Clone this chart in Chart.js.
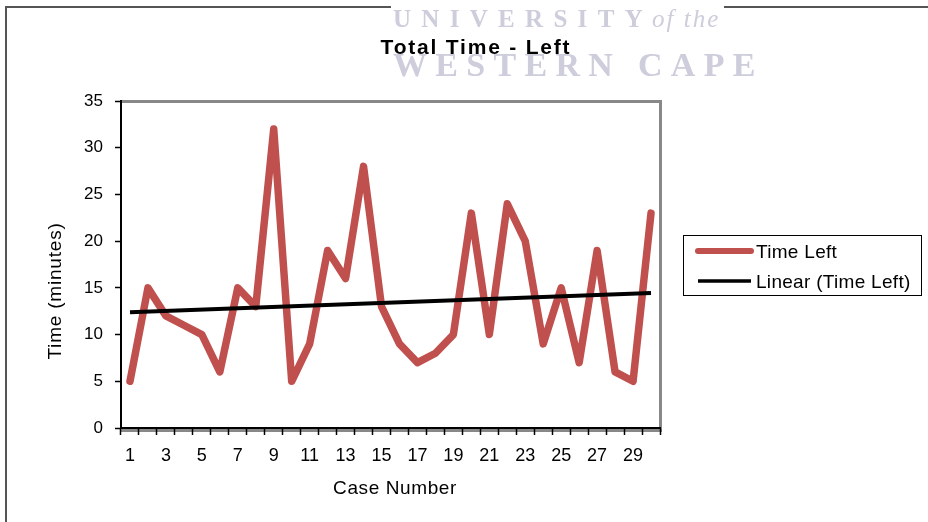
<!DOCTYPE html>
<html>
<head>
<meta charset="utf-8">
<title>Total Time - Left</title>
<script src="https://cdn.jsdelivr.net/npm/chart.js@4.4.1/dist/chart.umd.min.js"></script>
<style>
  html, body { margin: 0; padding: 0; background: #fff; }
  #wrap { width: 928px; height: 522px; position: relative; }
  canvas { display: block; }
</style>
</head>
<body>
<div id="wrap"><canvas id="chart" width="928" height="522"></canvas></div>
<script>
// Case numbers along the x axis
const caseNumbers = ['1','2','3','4','5','6','7','8','9','10','11','12','13','14','15',
                     '16','17','18','19','20','21','22','23','24','25','26','27','28','29','30'];
// Total time left per case, in minutes
const timeLeft = [5, 15, 12, 11, 10, 6, 15, 13, 32, 5, 9, 19, 16, 28, 13,
                  9, 7, 8, 10, 23, 10, 24, 20, 9, 15, 7, 19, 6, 5, 23];
// Linear trend line values at the first and last case
const trendEnds = [12.4, 14.45];
// Y axis range and step (minutes)
const yTicks = { min: 0, max: 35, step: 5 };

const seriesNames = ['Time Left', 'Linear (Time Left)'];
const seriesColors = ['#C0504D', '#000000'];

const trendData = caseNumbers.map((_, i) =>
  i === 0 ? trendEnds[0] : (i === caseNumbers.length - 1 ? trendEnds[1] : null));

const SANS = '"Liberation Sans", Arial, sans-serif';
const SERIF = '"Liberation Serif", "Times New Roman", serif';

const decor = {
  id: 'decor',
  beforeDraw(chart) {
    const { ctx, chartArea: a } = chart;
    ctx.save();
    ctx.fillStyle = '#fff';
    ctx.fillRect(0, 0, chart.width, chart.height);

    // outer frame (top and left edges)
    ctx.strokeStyle = '#555';
    ctx.lineWidth = 2;
    ctx.beginPath();
    ctx.moveTo(6, chart.height);
    ctx.lineTo(6, 7);
    ctx.lineTo(chart.width, 7);
    ctx.stroke();

    // faint letterhead mark on its own white patch
    ctx.fillStyle = '#fff';
    ctx.fillRect(391, 0, 333, 32);
    ctx.fillStyle = '#cdcddc';
    ctx.textBaseline = 'alphabetic';
    ctx.textAlign = 'left';
    ctx.font = 'bold 25px ' + SERIF;
    ctx.letterSpacing = '10.3px';
    ctx.fillText('UNIVERSITY', 393, 27);
    ctx.font = 'italic 25px ' + SERIF;
    ctx.letterSpacing = '2px';
    ctx.fillText('of the', 652, 27);
    ctx.font = 'bold 34px ' + SERIF;
    ctx.letterSpacing = '8.3px';
    ctx.fillText('WESTERN CAPE', 393, 76);
    ctx.letterSpacing = '0px';

    // title
    ctx.fillStyle = '#000';
    ctx.font = 'bold 21px ' + SANS;
    ctx.letterSpacing = '1.8px';
    ctx.textAlign = 'center';
    ctx.fillText('Total Time - Left', 476, 54);
    ctx.letterSpacing = '0px';

    // plot area frame: grey top/right edges and a shadow under the x axis
    ctx.strokeStyle = '#888';
    ctx.lineWidth = 3;
    ctx.beginPath();
    ctx.moveTo(a.left, a.top + 0.5);
    ctx.lineTo(a.right + 0.5, a.top + 0.5);
    ctx.lineTo(a.right + 0.5, a.bottom + 3);
    ctx.stroke();
    ctx.beginPath();
    ctx.moveTo(a.left, a.bottom + 2.5);
    ctx.lineTo(a.right + 2, a.bottom + 2.5);
    ctx.stroke();
    ctx.restore();
  },
  afterDraw(chart) {
    const { ctx } = chart;
    ctx.save();
    // axis titles
    ctx.fillStyle = '#000';
    ctx.font = '19px ' + SANS;
    ctx.textAlign = 'center';
    ctx.textBaseline = 'alphabetic';
    ctx.letterSpacing = '0.6px';
    ctx.fillText('Case Number', 395, 494);
    ctx.translate(61, 291);
    ctx.rotate(-Math.PI / 2);
    ctx.letterSpacing = '0.8px';
    ctx.fillText('Time (minutes)', 0, 0);
    ctx.setTransform(1, 0, 0, 1, 0, 0);
    ctx.letterSpacing = '0px';

    // legend box
    ctx.strokeStyle = '#000';
    ctx.lineWidth = 1;
    ctx.strokeRect(683.5, 235.5, 238, 60);
    const rows = [
      { y: 251, w: 6, cap: 'round', base: 258 },
      { y: 281, w: 3.5, cap: 'butt', base: 288 }
    ];
    rows.forEach((r, i) => {
      ctx.strokeStyle = seriesColors[i];
      ctx.lineWidth = r.w;
      ctx.lineCap = r.cap;
      ctx.beginPath();
      ctx.moveTo(698, r.y);
      ctx.lineTo(751, r.y);
      ctx.stroke();
      ctx.fillStyle = '#000';
      ctx.font = '19px ' + SANS;
      ctx.textAlign = 'left';
      ctx.letterSpacing = '0.3px';
      ctx.fillText(seriesNames[i], 756, r.base);
    });
    ctx.restore();
  }
};

new Chart(document.getElementById('chart'), {
  type: 'line',
  data: {
    labels: caseNumbers,
    datasets: [
      {
        label: seriesNames[0],
        data: timeLeft,
        borderColor: seriesColors[0],
        backgroundColor: seriesColors[0],
        borderWidth: 7.5,
        borderCapStyle: 'round',
        borderJoinStyle: 'round',
        pointRadius: 0,
        tension: 0,
        order: 1
      },
      {
        label: seriesNames[1],
        data: trendData,
        borderColor: seriesColors[1],
        backgroundColor: seriesColors[1],
        borderWidth: 4,
        pointRadius: 0,
        spanGaps: true,
        order: 0
      }
    ]
  },
  options: {
    responsive: false,
    animation: false,
    devicePixelRatio: 1,
    layout: { padding: { left: 0, top: 101, right: 268, bottom: 0 } },
    plugins: {
      legend: { display: false },
      title: { display: false },
      tooltip: { enabled: false }
    },
    scales: {
      x: {
        offset: true,
        grid: {
          offset: true,
          drawOnChartArea: false,
          drawTicks: true,
          tickLength: 7,
          tickColor: '#000',
          tickWidth: 1.5
        },
        border: { color: '#000', width: 2 },
        ticks: {
          autoSkip: false,
          maxRotation: 0,
          padding: 10,
          color: '#000',
          font: { family: SANS, size: 18 },
          callback: (v, i) => (i % 2 === 0 ? caseNumbers[i] : '')
        },
        afterFit(scale) { scale.height = 94; }
      },
      y: {
        min: yTicks.min,
        max: yTicks.max,
        ticks: {
          stepSize: yTicks.step,
          padding: 12,
          color: '#000',
          font: { family: SANS, size: 17 }
        },
        grid: {
          drawOnChartArea: false,
          drawTicks: true,
          tickLength: 6,
          tickColor: '#000',
          tickWidth: 1.5
        },
        border: { color: '#000', width: 2 },
        afterFit(scale) { scale.width = 121; }
      }
    }
  },
  plugins: [decor]
});
</script>
</body>
</html>
